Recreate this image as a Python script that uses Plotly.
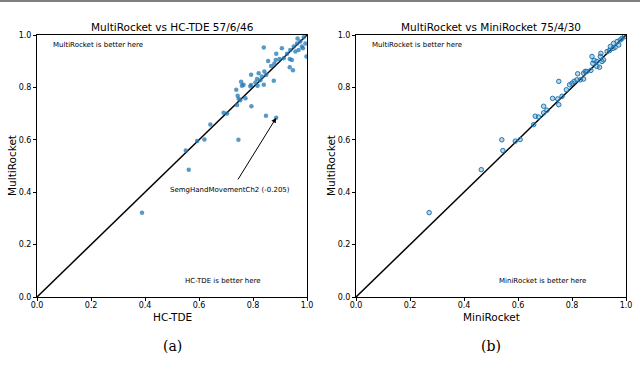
import plotly.graph_objects as go

# Panel (a): HC-TDE (x) vs MultiRocket (y)
hc_tde = [0.840, 0.856, 0.907, 0.886, 0.793, 0.756, 0.759, 0.765, 0.738, 0.743,
          0.747, 0.772, 0.753, 0.741, 0.790, 0.793, 0.815, 0.809, 0.821, 0.833,
          0.842, 0.849, 0.827, 0.840, 0.817, 0.877, 0.867, 0.879, 0.884, 0.898,
          0.914, 0.926, 0.938, 0.936, 0.944, 0.948, 0.936, 0.951, 0.963, 0.965,
          0.975, 0.981, 0.969, 0.957, 0.988, 0.994, 0.998, 0.985, 0.794, 0.848,
          0.886, 0.704, 0.691, 0.642, 0.620, 0.593, 0.551, 0.562, 0.746, 0.389]
multi_a = [0.952, 0.901, 0.949, 0.928, 0.848, 0.822, 0.806, 0.810, 0.791, 0.768,
           0.757, 0.759, 0.751, 0.733, 0.804, 0.809, 0.832, 0.819, 0.854, 0.842,
           0.861, 0.848, 0.827, 0.810, 0.806, 0.825, 0.882, 0.890, 0.905, 0.908,
           0.911, 0.928, 0.943, 0.908, 0.905, 0.865, 0.877, 0.956, 0.968, 0.987,
           0.975, 0.956, 0.943, 0.937, 0.991, 0.968, 0.918, 0.949, 0.728, 0.692,
           0.684, 0.700, 0.703, 0.658, 0.601, 0.595, 0.559, 0.486, 0.600, 0.322]

# Panel (b): MiniRocket (x) vs MultiRocket (y)
minirocket = [0.464, 0.540, 0.544, 0.590, 0.608, 0.658, 0.664, 0.676, 0.695, 0.695,
              0.707, 0.728, 0.751, 0.751, 0.747, 0.763, 0.779, 0.791, 0.800, 0.808,
              0.818, 0.821, 0.831, 0.843, 0.849, 0.843, 0.855, 0.870, 0.874, 0.877,
              0.882, 0.892, 0.905, 0.907, 0.902, 0.917, 0.911, 0.930, 0.942, 0.954,
              0.960, 0.967, 0.979, 0.985, 0.994, 0.973, 0.939, 0.952, 0.892, 0.271]
multi_b = [0.486, 0.600, 0.559, 0.595, 0.601, 0.658, 0.690, 0.687, 0.703, 0.728,
           0.713, 0.758, 0.823, 0.734, 0.756, 0.766, 0.791, 0.810, 0.816, 0.823,
           0.829, 0.852, 0.829, 0.854, 0.861, 0.832, 0.861, 0.865, 0.918, 0.892,
           0.903, 0.899, 0.918, 0.930, 0.877, 0.905, 0.899, 0.937, 0.956, 0.968,
           0.953, 0.975, 0.981, 0.987, 0.994, 0.962, 0.941, 0.949, 0.880, 0.322]

diag = [0.0, 1.0]
tick_vals = [0.0, 0.2, 0.4, 0.6, 0.8, 1.0]
tick_text = ["0.0", "0.2", "0.4", "0.6", "0.8", "1.0"]

titles = ["MultiRocket vs HC-TDE 57/6/46", "MultiRocket vs MiniRocket 75/4/30"]
xlabels = ["HC-TDE", "MiniRocket"]
ylabel = "MultiRocket"
better_y = "MultiRocket is better here"
better_x = ["HC-TDE is better here", "MiniRocket is better here"]
captions = ["(a)", "(b)"]

BLUE = "#1f77b4"
FONT = "DejaVu Sans"
W, H = 640, 377

fig = go.Figure()

fig.add_trace(go.Scatter(x=diag, y=diag, mode="lines", line=dict(color="black", width=1.5),
                         xaxis="x", yaxis="y", hoverinfo="skip"))
fig.add_trace(go.Scatter(x=diag, y=diag, mode="lines", line=dict(color="black", width=1.5),
                         xaxis="x2", yaxis="y2", hoverinfo="skip"))

fig.add_trace(go.Scatter(x=hc_tde, y=multi_a, mode="markers", xaxis="x", yaxis="y",
                         marker=dict(color=BLUE, size=4.5, opacity=0.75, line=dict(width=0))))
fig.add_trace(go.Scatter(x=minirocket, y=multi_b, mode="markers", xaxis="x2", yaxis="y2",
                         marker=dict(color="rgba(31,119,180,0.3)", size=4.5,
                                     line=dict(color=BLUE, width=1))))

ydom = [1 - 297 / H, 1 - 35 / H]
xdom1 = [37 / W, 307 / W]
xdom2 = [356 / W, 626 / W]

axis_common = dict(range=[0, 1], tickvals=tick_vals, ticktext=tick_text, showgrid=False,
                   zeroline=False, showline=True, linecolor="black", linewidth=1, mirror=True,
                   ticks="outside", ticklen=3, tickwidth=1, tickcolor="black", automargin=False,
                   tickfont=dict(family=FONT, size=8, color="black"))

fig.update_layout(
    width=W, height=H, margin=dict(l=0, r=0, t=0, b=0, autoexpand=False),
    paper_bgcolor="white", plot_bgcolor="white", showlegend=False,
    font=dict(family=FONT, color="black"),
    xaxis=dict(domain=xdom1, anchor="y", ticklabelstandoff=-3, **axis_common),
    yaxis=dict(domain=ydom, anchor="x", **axis_common),
    xaxis2=dict(domain=xdom2, anchor="y2", ticklabelstandoff=-3, **axis_common),
    yaxis2=dict(domain=ydom, anchor="x2", **axis_common),
)

anns = []
for i, (xr, yr) in enumerate([("x", "y"), ("x2", "y2")]):
    dom = xdom1 if i == 0 else xdom2
    cx = (dom[0] + dom[1]) / 2
    anns.append(dict(text=titles[i], xref="paper", yref="paper", x=cx, xanchor="center",
                     y=1 - 27 / H, yanchor="middle", showarrow=False,
                     font=dict(family=FONT, size=10.5)))
    anns.append(dict(text=xlabels[i], xref="paper", yref="paper", x=cx, xanchor="center",
                     y=1 - 317 / H, yanchor="middle", showarrow=False,
                     font=dict(family=FONT, size=10.5)))
    anns.append(dict(text=ylabel, xref="paper", yref="paper", x=(dom[0] * W - 25) / W,
                     xanchor="center", y=(ydom[0] + ydom[1]) / 2, yanchor="middle",
                     textangle=-90, showarrow=False, font=dict(family=FONT, size=10.5)))
    anns.append(dict(text=better_y, xref=xr, yref=yr, x=0.05, y=0.96,
                     xanchor="left", yanchor="middle", showarrow=False,
                     font=dict(family=FONT, size=7)))
    anns.append(dict(text=better_x[i], xref=xr, yref=yr, x=0.69, y=0.06,
                     xanchor="center", yanchor="middle", showarrow=False,
                     font=dict(family=FONT, size=7)))
    anns.append(dict(text=captions[i], xref="paper", yref="paper", x=cx, xanchor="center",
                     y=1 - 346 / H, yanchor="middle", showarrow=False,
                     font=dict(family="DejaVu Serif", size=14)))

anns.append(dict(text="SemgHandMovementCh2 (-0.205)", xref="x", yref="y", x=0.716, y=0.41,
                 xanchor="center", yanchor="middle",
                 showarrow=False, font=dict(family=FONT, size=7)))
anns.append(dict(text="", xref="x", yref="y", x=0.886, y=0.684, ax=0.741, ay=0.443,
                 axref="x", ayref="y", showarrow=True, arrowhead=2, arrowsize=1,
                 arrowwidth=1, arrowcolor="black"))
fig.update_layout(annotations=anns)

fig.add_shape(type="line", xref="paper", yref="paper", x0=0, x1=1, y0=1 - 1 / H,
              y1=1 - 1 / H, line=dict(color="#555555", width=1.5))

fig.write_html("out.html", config={"displayModeBar": False},
               post_script="document.body.style.margin='0';")
